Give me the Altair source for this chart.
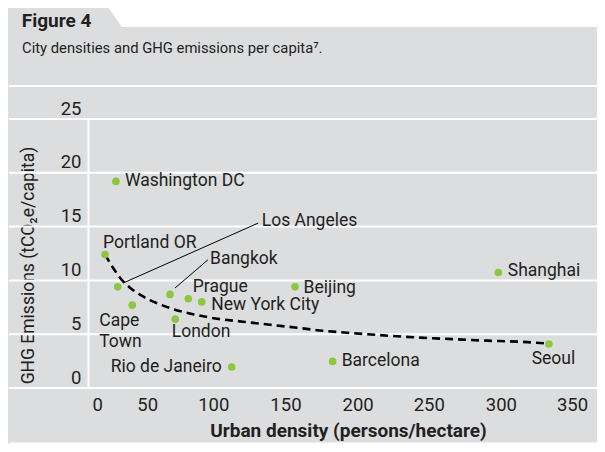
import altair as alt
import pandas as pd

# ---------------- data ----------------
cities = ["Washington DC", "Portland OR", "Los Angeles", "Cape Town", "Bangkok",
          "London", "Prague", "New York City", "Beijing", "Rio de Janeiro",
          "Barcelona", "Shanghai", "Seoul"]
density = [20.2, 12.3, 21.5, 32.0, 59.3, 63.1, 72.5, 82.2, 149.7, 103.9, 176.9, 296.7, 333.3]
emissions = [19.2, 12.4, 9.4, 7.7, 8.7, 6.4, 8.3, 8.0, 9.4, 1.95, 2.47, 10.74, 4.09]

trend_density = [12.3, 18.1, 23.1, 30.4, 37.6, 44.8, 53.5, 62.9, 75.9, 93.3, 112.1, 131.6,
                 151.1, 169.9, 187.3, 240.1, 263.9, 288.5, 312.4, 333.4]
trend_emissions = [12.39, 11.18, 10.25, 9.32, 8.67, 8.16, 7.70, 7.28, 6.86, 6.44, 6.16, 5.88,
                   5.60, 5.32, 5.14, 4.68, 4.54, 4.40, 4.30, 4.12]

# leader lines (annotation, data units)
leader_x = [25.5, 62.9]
leader_y = [9.76, 9.29]
leader_x2 = [123.1, 86.8]
leader_y2 = [15.33, 11.92]

x_ticks = [0, 50, 100, 150, 200, 250, 300, 350]
y_ticks = [0, 5, 10, 15, 20, 25]

title_text = "Figure 4"
subtitle_text = "City densities and GHG emissions per capita\u2077."
x_title = "Urban density (persons/hectare)"
y_title = "GHG Emissions (tCO\u2082e/capita)"

# ---------------- style ----------------
FONT = "Roboto"
TXT = "#231f20"
BG = "#dcdddf"
GREEN = "#8dc63f"
W, H = 509, 269
PX_PER_UNIT = 1.3829

df = pd.DataFrame({"city": cities, "density": density, "emissions": emissions})
trend = pd.DataFrame({"density": trend_density, "emissions": trend_emissions})
leaders = pd.DataFrame({"x": leader_x, "y": leader_y, "x2": leader_x2, "y2": leader_y2})
grid = pd.DataFrame({"v": y_ticks})
one = pd.DataFrame({"k": [0]})

xscale = alt.Scale(domain=[0, W / PX_PER_UNIT], nice=False, zero=False)
yscale = alt.Scale(domain=[0, 25], nice=False, zero=False)

x_offsets = [4, -10, -13, -10, -7, -5, -2, 0]
X_AXIS = alt.Axis(
    values=x_ticks, grid=False, domain=False, ticks=False, tickSize=0,
    labelPadding=7, labelFont=FONT, labelFontSize=18.5, labelColor=TXT,
    labelOffset={"condition": [{"test": f"datum.value == {v}", "value": o}
                               for v, o in zip(x_ticks, x_offsets)], "value": 0},
    title=x_title, titleFont=FONT, titleFontSize=19, titleFontWeight="bold",
    titleColor=TXT, titleBaseline="middle", titleAlign="center", titleY=42, titleX=260,
)
Y_AXIS = alt.Axis(
    values=y_ticks, grid=False, domain=True, domainColor="white", domainWidth=2,
    ticks=False, tickSize=0, labelPadding=7, labelOffset=-11,
    labelFont=FONT, labelFontSize=18.5, labelColor=TXT,
    title=y_title, titleFont=FONT, titleFontSize=17.5, titleFontWeight="normal",
    titleColor=TXT, titleAngle=270, titleAlign="center", titleBaseline="middle",
    titleX=-59.5, titleY=146,
)

def X(field):
    return alt.X(field, type="quantitative", scale=xscale, axis=X_AXIS)

def Y(field):
    return alt.Y(field, type="quantitative", scale=yscale, axis=Y_AXIS)

# header white area (right of the tab)
tab = alt.Chart(one).mark_point(
    shape=f"M15,-119L{W},-119L{W},-92L34,-92Z", size=4, filled=True,
    color="white", opacity=1, strokeWidth=0
).encode(x=alt.value(0), y=alt.value(0))

divider = alt.Chart(one).mark_rule(color="white", strokeWidth=2).encode(
    x=alt.value(-79), x2=alt.value(W), y=alt.value(-33))
bottom_line = alt.Chart(one).mark_rule(color="white", strokeWidth=2).encode(
    x=alt.value(-79), x2=alt.value(W), y=alt.value(324.5))

gridlines = alt.Chart(grid).mark_rule(color="white", strokeWidth=2).encode(
    y=Y("v"), x=alt.value(-79), x2=alt.value(W))

trend_line = alt.Chart(trend).mark_line(
    color="black", strokeWidth=2.6, strokeDash=[8, 5], interpolate="monotone"
).encode(x=X("density"), y=Y("emissions"), order=alt.Order("density:Q"))

leader_lines = alt.Chart(leaders).mark_rule(color="black", strokeWidth=1).encode(
    x=X("x"), y=Y("y"), x2="x2:Q", y2="y2:Q")

points = alt.Chart(df).mark_circle(size=58, color=GREEN, opacity=1).encode(
    x=X("density"), y=Y("emissions"))

label_style = {
    "Washington DC": (9, 0, "left"),
    "Portland OR": (-2, -12, "left"),
    "Los Angeles": (144, -66, "left"),
    "Bangkok": (40, -35, "left"),
    "Prague": (4.5, -12, "left"),
    "New York City": (9.5, 3.5, "left"),
    "London": (-3.5, 13, "left"),
    "Rio de Janeiro": (-10, -0.5, "right"),
    "Beijing": (8.5, 1, "left"),
    "Barcelona": (9, -0.5, "left"),
    "Shanghai": (9.5, -1.5, "left"),
    "Seoul": (4.5, 15, "center"),
}

label_layers = []
for name, (dx, dy, align) in label_style.items():
    label_layers.append(
        alt.Chart(df).transform_filter(alt.datum.city == name).mark_text(
            dx=dx, dy=dy, align=align, baseline="middle", font=FONT,
            fontSize=17.5, color=TXT
        ).encode(x=X("density"), y=Y("emissions"), text="city:N")
    )
# Cape Town on two lines
label_layers.append(
    alt.Chart(df).transform_filter(alt.datum.city == "Cape Town").mark_text(
        dx=-33, dy=7, align="left", baseline="top", font=FONT, fontSize=17.5,
        color=TXT, lineBreak=" ", lineHeight=21
    ).encode(x=X("density"), y=Y("emissions"), text="city:N")
)

title = alt.Chart(one).mark_text(
    align="left", baseline="alphabetic", font=FONT, fontSize=19, fontWeight="bold", color=TXT
).encode(x=alt.value(-66.3), y=alt.value(-92.3), text=alt.value(title_text))
subtitle = alt.Chart(one).mark_text(
    align="left", baseline="alphabetic", font=FONT, fontSize=14.8, color=TXT
).encode(x=alt.value(-66), y=alt.value(-66.3), text=alt.value(subtitle_text))

chart = alt.layer(
    tab, divider, bottom_line, gridlines, trend_line, leader_lines, points,
    *label_layers, title, subtitle
).properties(
    width=W, height=H,
    autosize=alt.AutoSizeParams(type="none"),
    padding={"left": 80, "top": 111, "right": 0, "bottom": 56},
).configure(background=BG).configure_view(stroke=None)

chart.save("out.html", embed_options={"renderer": "svg", "actions": False})
